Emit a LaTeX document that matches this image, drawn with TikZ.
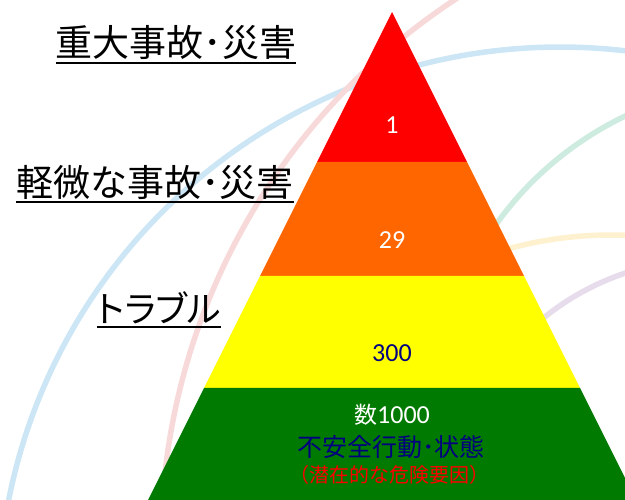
\documentclass[tikz,border=0pt]{standalone}
\usepackage{fontspec}
\newfontfamily\jp{Noto Sans CJK JP}
\newfontfamily\jpp[RawFeature=+palt]{Noto Sans CJK JP}
\newfontfamily\num{Carlito}
\definecolor{arcblue}{HTML}{CCE6F6}
\definecolor{arcred}{HTML}{F8D9D9}
\definecolor{arcgreen}{HTML}{CDEBDF}
\definecolor{arcyellow}{HTML}{FDF1D0}
\definecolor{arcpurple}{HTML}{E7DCEC}
\definecolor{tred}{HTML}{FF0000}
\definecolor{torange}{HTML}{FF6600}
\definecolor{tyellow}{HTML}{FFFF00}
\definecolor{tgreen}{HTML}{007A00}
\definecolor{navy}{HTML}{000080}
\tikzset{
  bgarc/.style={line width=5.5pt, line cap=round},
  heading/.style={inner sep=0pt, font=\jp\fontsize{37}{40}\selectfont, text=black},
  uline/.style={line width=2pt, black},
  band/.style={draw=none},
  numtxt/.style={inner sep=0pt, font=\num\fontsize{26}{30}\selectfont}
}
\begin{document}
\begin{tikzpicture}[x=1pt,y=-1pt]
\useasboundingbox (0,0) rectangle (625,500);
\begin{scope}
\clip (0,0) rectangle (625,500);
% background arcs (circle arcs, pixel coordinates with y downwards)
\draw[bgarc, arcblue] plot[domain=-170:-78, samples=90, smooth] ({560+562*cos(\x)}, {609+562*sin(\x)});
\draw[bgarc, arcred] plot[domain=-177:-120, samples=70, smooth] ({814+653*cos(\x)}, {545+653*sin(\x)});
\draw[bgarc, arcgreen] plot[domain=-150:-112, samples=40, smooth] ({771+338*cos(\x)}, {421+338*sin(\x)});
\draw[bgarc, arcyellow] plot[domain=-108:-86, samples=30, smooth] ({611+390*cos(\x)}, {625+390*sin(\x)});
\draw[bgarc, arcpurple] plot[domain=-134:-105, samples=30, smooth] ({708.5+262*cos(\x)}, {521.5+262*sin(\x)});
% pyramid bands
\fill[band, tred] (392,12) -- (467,162) -- (317,162) -- cycle;
\fill[band, torange] (317,162) -- (467,162) -- (524,276) -- (260,276) -- cycle;
\fill[band, tyellow] (260,276) -- (524,276) -- (580,388) -- (204,388) -- cycle;
\fill[band, tgreen] (204,388) -- (580,388) -- (636,500) -- (148,500) -- cycle;
\end{scope}
% headings
\node[heading] (h1) at (176,42.5) {重大事故･災害};
\draw[uline] ([yshift=-3pt]h1.south west) -- ([yshift=-3pt]h1.south east);
\node[heading] (h2) at (155,182) {軽微な事故･災害};
\draw[uline] ([yshift=-3pt]h2.south west) -- ([yshift=-3pt]h2.south east);
\node[heading, font=\jpp\fontsize{36}{40}\selectfont] (h3) at (159,308) {トラブル};
\draw[uline] ([yshift=-3pt]h3.south west) -- ([yshift=-3pt]h3.south east);
% numbers
\node[numtxt, text=white] (n1) at (392,125) {1};
\node[numtxt, text=white] (n2) at (392,240) {29};
\node[numtxt, text=navy] (n3) at (392,353) {300};
\node[numtxt, text=white] (n4) at (392,415) {{\jp\fontsize{23}{26}\selectfont 数}1000};
\node[inner sep=0pt, text=navy, font=\jp\fontsize{25}{28}\selectfont] (t1) at (391,447) {不安全行動･状態};
\node[inner sep=0pt, text=tred, font=\jp\fontsize{20}{22}\selectfont] (t2) at (389,475) {（潜在的な危険要因）};
\end{tikzpicture}
\end{document}
